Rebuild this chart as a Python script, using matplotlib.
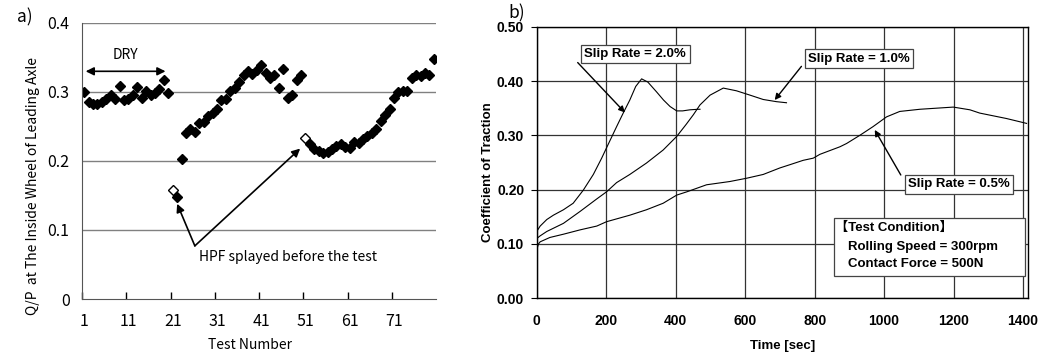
import matplotlib
matplotlib.use("Agg")
import matplotlib.pyplot as plt
from matplotlib.patches import Rectangle

# a) Q/P per test number (categories 1..80)
dry_q = [0.300, 0.285, 0.283, 0.282, 0.286, 0.290, 0.295, 0.290, 0.309, 0.288,
         0.290, 0.296, 0.307, 0.292, 0.301, 0.296, 0.298, 0.305, 0.317, 0.298]
wet1_q = [0.148, 0.203, 0.241, 0.247, 0.242, 0.255, 0.257, 0.265, 0.270, 0.276,
          0.288, 0.290, 0.302, 0.306, 0.315, 0.325, 0.330, 0.326, 0.332, 0.339,
          0.328, 0.320, 0.324, 0.306, 0.333, 0.291, 0.296, 0.317, 0.325]
wet2_q = [0.224, 0.218, 0.214, 0.212, 0.213, 0.217, 0.222, 0.224, 0.221, 0.219,
          0.227, 0.226, 0.232, 0.236, 0.240, 0.247, 0.258, 0.267, 0.275, 0.292,
          0.300, 0.301, 0.302, 0.321, 0.325, 0.323, 0.328, 0.324, 0.348]
hpf_tests = [21, 51]
hpf_q = [0.158, 0.233]

# b) coefficient of traction vs time
t_20 = [0, 10, 29, 48, 77, 105, 134, 163, 187, 201, 230, 249, 268, 285, 302,
        320, 345, 365, 384, 403, 420, 441, 465, 470]
mu_20 = [0.123, 0.133, 0.145, 0.153, 0.163, 0.175, 0.199, 0.228, 0.258, 0.277,
         0.316, 0.341, 0.365, 0.390, 0.404, 0.398, 0.380, 0.365, 0.353, 0.345,
         0.345, 0.347, 0.348, 0.348]
t_10 = [0, 10, 29, 77, 125, 173, 201, 230, 268, 316, 364, 403, 430, 451, 470,
        499, 537, 575, 614, 652, 690, 719]
mu_10 = [0.110, 0.115, 0.123, 0.138, 0.160, 0.183, 0.196, 0.213, 0.228, 0.249,
         0.273, 0.298, 0.320, 0.338, 0.356, 0.374, 0.387, 0.382, 0.374, 0.366,
         0.362, 0.360]
t_05 = [0, 5, 10, 38, 77, 125, 173, 201, 268, 316, 364, 403, 432, 489, 556,
        604, 652, 700, 729, 767, 796, 815, 873, 892, 930, 968, 1007, 1045,
        1103, 1151, 1199, 1247, 1275, 1352, 1410]
mu_05 = [0.089, 0.100, 0.104, 0.112, 0.118, 0.126, 0.133, 0.141, 0.153, 0.163,
         0.175, 0.190, 0.196, 0.209, 0.215, 0.221, 0.228, 0.240, 0.246, 0.254,
         0.258, 0.265, 0.279, 0.285, 0.300, 0.316, 0.334, 0.344, 0.348, 0.350,
         0.352, 0.347, 0.341, 0.331, 0.322]

jp = ['Noto Sans CJK JP', 'DejaVu Sans']
bold = ['Liberation Sans', 'Noto Sans CJK JP']

fig = plt.figure(figsize=(10.39, 3.54), dpi=100)

# ---------- panel a ----------
ax = fig.add_axes([82 / 1039, 55 / 354, 354 / 1039, 276 / 354])
n_dry = list(range(1, 21))
n_w1 = list(range(22, 51))
n_w2 = list(range(52, 81))
for xs, ys in [(n_dry, dry_q), (n_w1, wet1_q), (n_w2, wet2_q)]:
    ax.plot(xs, ys, 'D', color='black', ms=5.2, mec='black')
ax.plot(hpf_tests, hpf_q, 'D', mfc='white', mec='black', ms=5.2, mew=1)
ax.set_xlim(0.5, 80.5)
ax.set_ylim(0, 0.4)
ax.set_yticks([0, 0.1, 0.2, 0.3, 0.4])
ax.set_yticklabels(['0', '0.1', '0.2', '0.3', '0.4'], family=jp, fontsize=11.5)
ax.set_xticks(range(1, 80, 10))
ax.set_xticklabels([str(v) for v in range(1, 80, 10)], family=jp, fontsize=11.5)
ax.set_xticks([x + 0.5 for x in range(0, 80, 10)], minor=True)
ax.tick_params(axis='x', which='major', length=0, pad=10)
ax.tick_params(axis='x', which='minor', direction='in', length=5, width=1)
ax.tick_params(axis='y', length=0, pad=9)
for v in [0.1, 0.2, 0.3, 0.4]:
    ax.axhline(v, color='#808080', lw=1, zorder=0)
for s in ['top', 'right']:
    ax.spines[s].set_visible(False)
ax.spines['left'].set_color('#555555')
ax.spines['bottom'].set_color('#555555')
ax.set_xlabel('Test Number', family=jp, fontsize=10)
ax.xaxis.set_label_coords(0.475, -0.14)
ax.set_ylabel('Q/P  at The Inside Wheel of Leading Axle', family=jp, fontsize=10)
ax.yaxis.set_label_coords(-0.12, 0.41)

ax.annotate('', xy=(0.7, 0.330), xytext=(20, 0.330),
            arrowprops=dict(arrowstyle='<|-|>', color='black', lw=1.2,
                            mutation_scale=12))
ax.text(10.3, 0.354, 'DRY', family=jp, fontsize=10, ha='center', va='center')
ax.annotate('', xy=(22.0, 0.138), xytext=(26.0, 0.077),
            arrowprops=dict(arrowstyle='-|>', color='black', lw=1.2,
                            mutation_scale=12, shrinkA=0, shrinkB=0))
ax.annotate('', xy=(49.8, 0.218), xytext=(26.0, 0.077),
            arrowprops=dict(arrowstyle='-|>', color='black', lw=1.2,
                            mutation_scale=12, shrinkA=0, shrinkB=0))
ax.text(26.9, 0.061, 'HPF splayed before the test', family=jp, fontsize=10,
        ha='left', va='center')
fig.text(17 / 1039, 1 - 17 / 354, 'a)', family=jp, fontsize=12.5, va='center')

# ---------- panel b ----------
bx = fig.add_axes([536.7 / 1039, 55.7 / 354, 491.6 / 1039, 271.6 / 354])
bx.plot(t_20, mu_20, color='black', lw=0.8)
bx.plot(t_10, mu_10, color='black', lw=0.8)
bx.plot(t_05, mu_05, color='black', lw=0.8)
bx.set_xlim(0, 1415)
bx.set_ylim(0, 0.5)
bx.set_xticks(range(0, 1401, 200))
bx.set_yticks([0, 0.1, 0.2, 0.3, 0.4, 0.5])
bx.set_yticklabels(['%.2f' % v for v in [0, 0.1, 0.2, 0.3, 0.4, 0.5]],
                   family=bold, fontsize=10, fontweight='bold')
bx.set_xticklabels([str(v) for v in range(0, 1401, 200)],
                   family=bold, fontsize=10, fontweight='bold')
bx.tick_params(axis='y', direction='out', length=4, pad=5)
bx.tick_params(axis='x', length=0, pad=11)
bx.grid(True, color='#333333', lw=0.9)
bx.set_axisbelow(True)
for s in bx.spines.values():
    s.set_linewidth(1)
bx.set_xlabel('Time [sec]', family=bold, fontsize=9.5, fontweight='bold')
bx.xaxis.set_label_coords(0.501, -0.155)
bx.set_ylabel('Coefficient of Traction', family=bold, fontsize=9.5,
              fontweight='bold')
bx.yaxis.set_label_coords(-0.086, 0.465)

box = dict(boxstyle='square,pad=0.25', fc='white', ec='#444444', lw=0.9)
arrow = dict(arrowstyle='-|>', color='black', lw=1.0, mutation_scale=9,
             shrinkA=0, shrinkB=0)
bx.annotate('', xy=(254, 0.342), xytext=(118, 0.434), arrowprops=arrow)
bx.annotate('', xy=(685, 0.365), xytext=(762, 0.427), arrowprops=arrow)
bx.annotate('', xy=(973, 0.310), xytext=(1048, 0.227), arrowprops=arrow)
bx.text(284, 0.450, 'Slip Rate = 2.0%', family=bold, fontsize=9.5,
        fontweight='bold', ha='center', va='center', bbox=box)
bx.text(928, 0.441, 'Slip Rate = 1.0%', family=bold, fontsize=9.5,
        fontweight='bold', ha='center', va='center', bbox=box)
bx.text(1215, 0.210, 'Slip Rate = 0.5%', family=bold, fontsize=9.5,
        fontweight='bold', ha='center', va='center', bbox=box)

bx.add_patch(Rectangle((855, 0.041), 550, 0.106, fc='white', ec='#444444',
                       lw=0.9, zorder=3))
bx.text(858, 0.129, '\u3010Test Condition\u3011', family=bold, fontsize=9.5,
        fontweight='bold', ha='left', va='center', zorder=4)
bx.text(896, 0.095, 'Rolling Speed = 300rpm', family=bold, fontsize=9.5,
        fontweight='bold', ha='left', va='center', zorder=4)
bx.text(896, 0.063, 'Contact Force = 500N', family=bold, fontsize=9.5,
        fontweight='bold', ha='left', va='center', zorder=4)
fig.text(508 / 1039, 1 - 13 / 354, 'b)', family=jp, fontsize=12.5, va='center')

fig.savefig('out.png', dpi=100)
